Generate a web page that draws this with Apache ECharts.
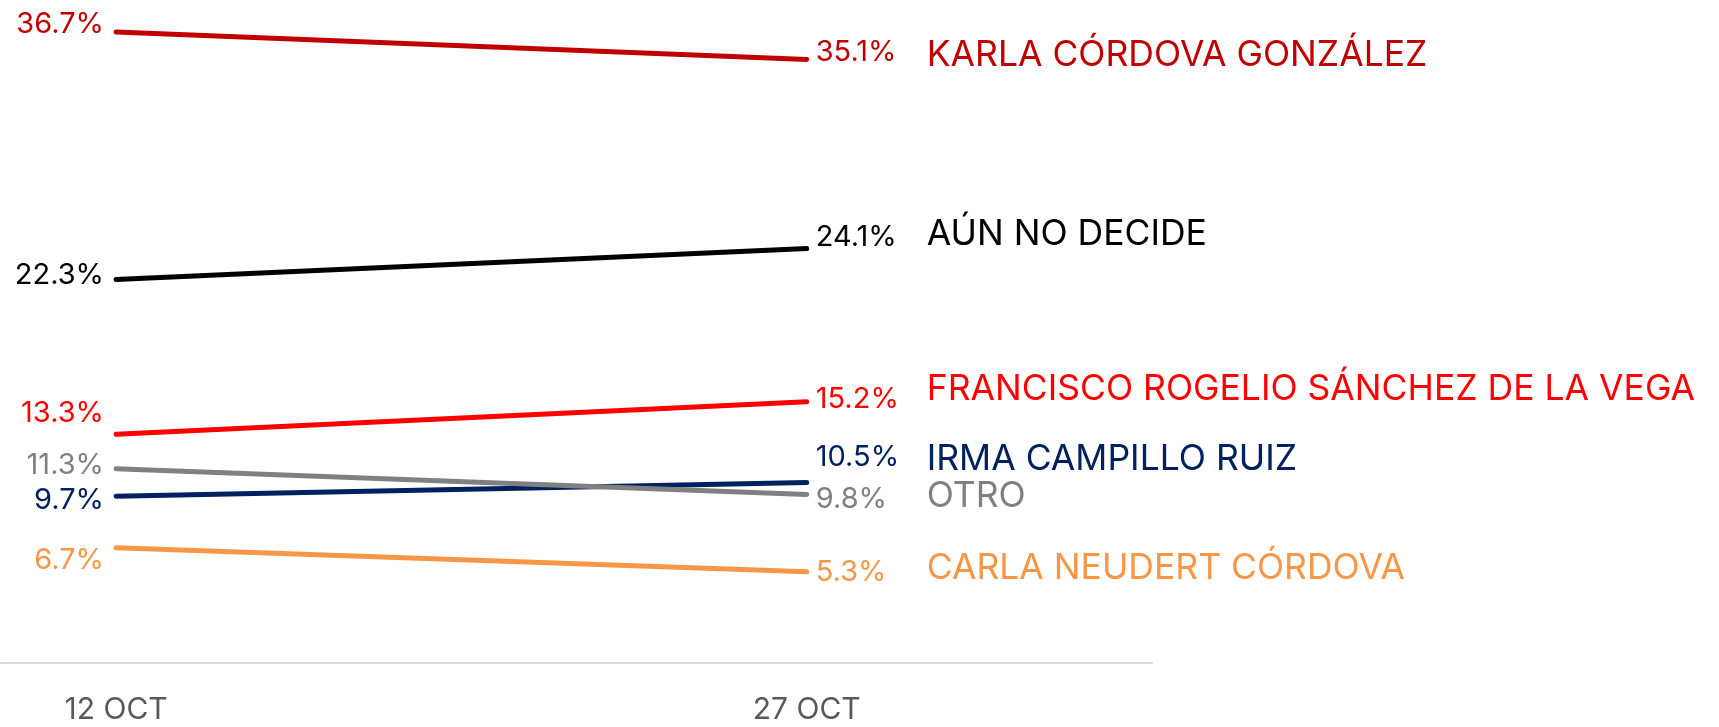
<!DOCTYPE html>
<html>
<head>
<meta charset="utf-8">
<script src="https://cdn.jsdelivr.net/npm/echarts@6/dist/echarts.min.js"></script>
<style>
  html, body { margin: 0; padding: 0; background: #fff; }
  #chart { width: 1719px; height: 727px; }
</style>
</head>
<body>
<div id="chart"></div>
<script>
// 5 slots on the axis, only two survey dates have data
const dates = ['12 OCT', '', '', '27 OCT', ''];

const names = [
  'KARLA CÓRDOVA GONZÁLEZ',
  'AÚN NO DECIDE',
  'FRANCISCO ROGELIO SÁNCHEZ DE LA VEGA',
  'IRMA CAMPILLO RUIZ',
  'OTRO',
  'CARLA NEUDERT CÓRDOVA'
];
const karla = [36.7, null, null, 35.1];
const noDecide = [22.3, null, null, 24.1];
const francisco = [13.3, null, null, 15.2];
const irma = [9.7, null, null, 10.5];
const otro = [11.3, null, null, 9.8];
const carla = [6.7, null, null, 5.3];

const colors = ['#c00000', '#000000', '#ff0000', '#002060', '#808080', '#f79646'];
// label nudges: [left value dy, right value dy, name dy]
const nudges = [[-8, -7, -4], [-4, -11, -14], [-21, -2, -12], [4, -25, -23], [-3, 5, 2], [12, 0, -4]];

const font = 'Inter, "Noto Sans", sans-serif';
const seriesData = [karla, noDecide, francisco, irma, otro, carla];

let chart = echarts.init(document.getElementById('chart'));

chart.setOption({
  animation: false,
  grid: { left: 1, right: 567, top: 1, bottom: 64 },
  xAxis: {
    type: 'category',
    data: dates,
    boundaryGap: true,
    axisLine: { lineStyle: { color: '#d9d9d9', width: 2 } },
    axisTick: { show: false },
    axisLabel: { color: '#595959', fontSize: 30, fontFamily: font, margin: 32, interval: 0 }
  },
  yAxis: {
    type: 'value',
    min: 0,
    max: 38.5,
    show: false,
    splitLine: { show: false }
  },
  series: seriesData.map((vals, i) => ({
    type: 'line',
    name: names[i],
    data: vals.map((v, j) => {
      if (v === null) return null;
      const left = j === 0;
      return {
        value: v,
        label: {
          show: true,
          position: left ? 'left' : 'right',
          distance: left ? 12 : 9,
          offset: [0, left ? nudges[i][0] : nudges[i][1]],
          formatter: v.toFixed(1) + '%'
        }
      };
    }),
    connectNulls: true,
    symbol: 'circle',
    showSymbol: true,
    symbolSize: 0,
    lineStyle: { color: colors[i], width: 5, cap: 'round' },
    itemStyle: { color: colors[i] },
    label: { color: colors[i], fontSize: 29, fontFamily: font },
    endLabel: {
      show: true,
      formatter: names[i],
      color: colors[i],
      fontSize: 35.5,
      fontFamily: font,
      distance: 120,
      offset: [0, nudges[i][2]]
    }
  }))
});
</script>
</body>
</html>
